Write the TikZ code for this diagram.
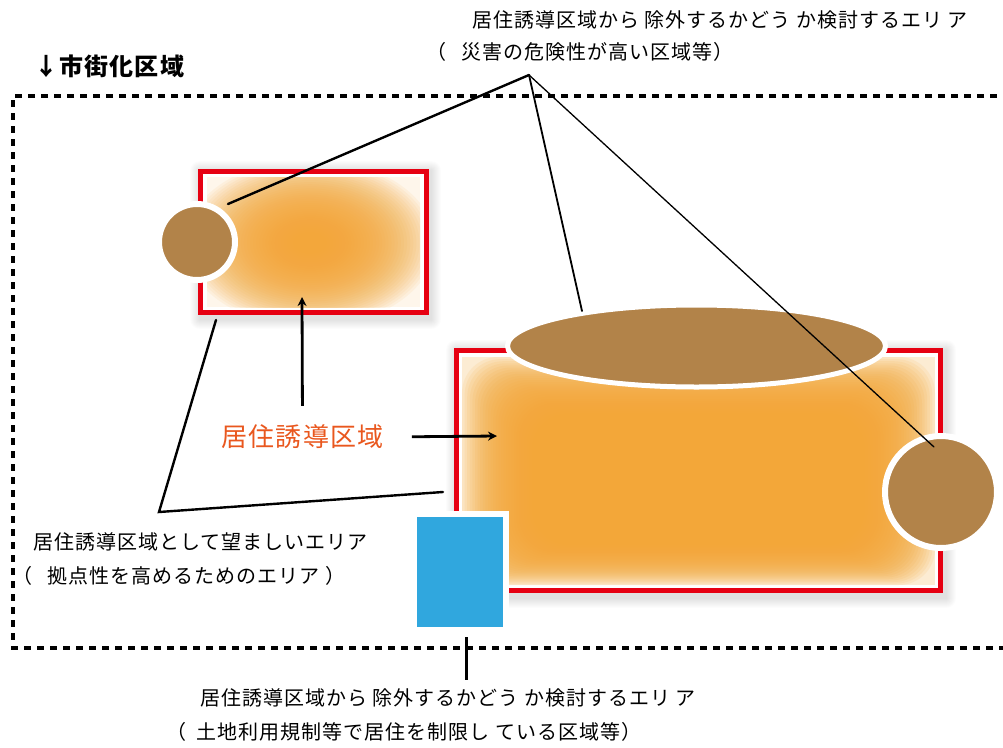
\documentclass[tikz,border=0pt]{standalone}
\usepackage{fontspec}
\setmainfont{Noto Sans CJK JP}[LetterSpace=5]
\usetikzlibrary{arrows.meta,shapes.geometric}
\definecolor{brownc}{RGB}{178,131,73}
\definecolor{orangec}{RGB}{243,167,55}
\definecolor{redc}{RGB}{230,0,18}
\definecolor{bluec}{RGB}{48,167,222}
\definecolor{labelc}{RGB}{233,87,30}
\tikzset{
  txt/.style={anchor=west, inner sep=0pt, font=\fontsize{20}{24}\selectfont},
  redframe/.style={draw=redc, line width=5pt, fill=white, inner sep=0pt},
  blob/.style={draw=white, fill=brownc, inner sep=0pt},
  conthick/.style={line width=2.4pt, line cap=round},
  conthin/.style={line width=1.8pt, line cap=round},
  conthinner/.style={line width=1.3pt, line cap=round},
  arr/.style={line width=2.8pt, -{Stealth[length=9pt,width=9pt]}},
  border/.style={line width=4pt, dash pattern=on 7pt off 6pt},
}
\begin{document}
\begin{tikzpicture}[x=1pt,y=-1pt]
\useasboundingbox (0,0) rectangle (1003,747);

% city area border
\draw[border] (1010,96) -- (13,96) -- (13,648) -- (1010,648);
\node[anchor=west, inner sep=0pt, font=\fontsize{24}{28}\selectfont\bfseries] (ttl) at (34,66) {↓市街化区域};

% shadows
\foreach \s in {1,...,10}{
  \fill[black, opacity=0.012, rounded corners=\s] (200-\s, 171-\s) rectangle (431+\s, 319+\s);
  \fill[black, opacity=0.012, rounded corners=\s] (456-\s, 350-\s) rectangle (946+\s, 598+\s);
}

% small area
\node[redframe, minimum width=226, minimum height=141] (sr) at (313.5,242) {};
\begin{scope}
\clip (207,177) rectangle (420,307);
\fill[orangec!10] (207,177) rectangle (420,307);
\foreach \i in {0,...,35}{
  \fill[orangec, fill opacity=0.08] (310,243) ellipse [x radius={125pt-\i*3.1pt}, y radius={84pt-\i*2.1pt}];
}
\end{scope}

% big area
\node[redframe, minimum width=484, minimum height=240.5] (br) at (698.5,470.25) {};
\begin{scope}
\clip (462,357) rectangle (935,585);
\fill[orangec!22] (462,357) rectangle (935,585);
\foreach \i in {0,...,27}{
  \fill[orangec, fill opacity=0.11, rounded corners=36] (462+\i*2.6, 357+\i*2.1) rectangle (935-\i*2.6, 585-\i*1.5);
}
\end{scope}

% hazard areas
\node[blob, ellipse, line width=5pt, minimum width=378, minimum height=82] (el) at (696.5,346) {};
\node[blob, circle, line width=6pt, minimum size=112] (rc) at (941,492) {};
\node[blob, circle, line width=6pt, minimum size=76] (sc) at (197,242) {};
\node[draw=white, line width=6pt, fill=bluec, inner sep=0pt, minimum width=92, minimum height=116] (bl) at (460,572) {};

% texts
\node[txt] (t1) at (472,20) {居住誘導区域から 除外するかどう か検討するエリ ア};
\node[txt] (t2) at (426,52) {（ \hspace{10pt}災害の危険性が高い区域等）};
\node[txt] (l1) at (33,542) {居住誘導区域として望ましいエリア};
\node[txt] (l2) at (12,576) {（ \hspace{10pt}拠点性を高めるためのエリア ）};
\node[txt] (b1) at (200,698) {居住誘導区域から 除外するかどう か検討するエリ ア};
\node[txt] (b2) at (166,732) {（ \hspace{5pt}土地利用規制等で居住を制限し ている区域等）};
\node[inner sep=0pt, text=labelc, font=\fontsize{26}{30}\selectfont] (lbl) at (302.5,437) {居住誘導区域};

% connector points
\coordinate (apex) at (529,75);
\coordinate (e1) at (228,204);
\coordinate (e2) at (582,311);
\coordinate (e3) at (934,447);
\coordinate (vtx) at (159,512);
\coordinate (e4) at (216,320);
\coordinate (e5) at (443,492);
\coordinate (tipv) at (302,297);
\coordinate (tiph) at (497,436);
\coordinate (tk) at (466,680);

\draw[conthick] (apex) -- (e1);
\draw[conthin] (apex) -- (e2);
\draw[conthinner] (apex) -- (e3);
\draw[conthick] (e4) -- (vtx) -- (e5);
\draw[arr, shorten <=19pt] (lbl.north) -- (tipv);
\draw[arr, shorten <=28pt] (lbl.east) -- (tiph);
\draw[line width=3pt, shorten <=4pt] (bl.south -| tk) -- (tk);
\end{tikzpicture}
\end{document}
